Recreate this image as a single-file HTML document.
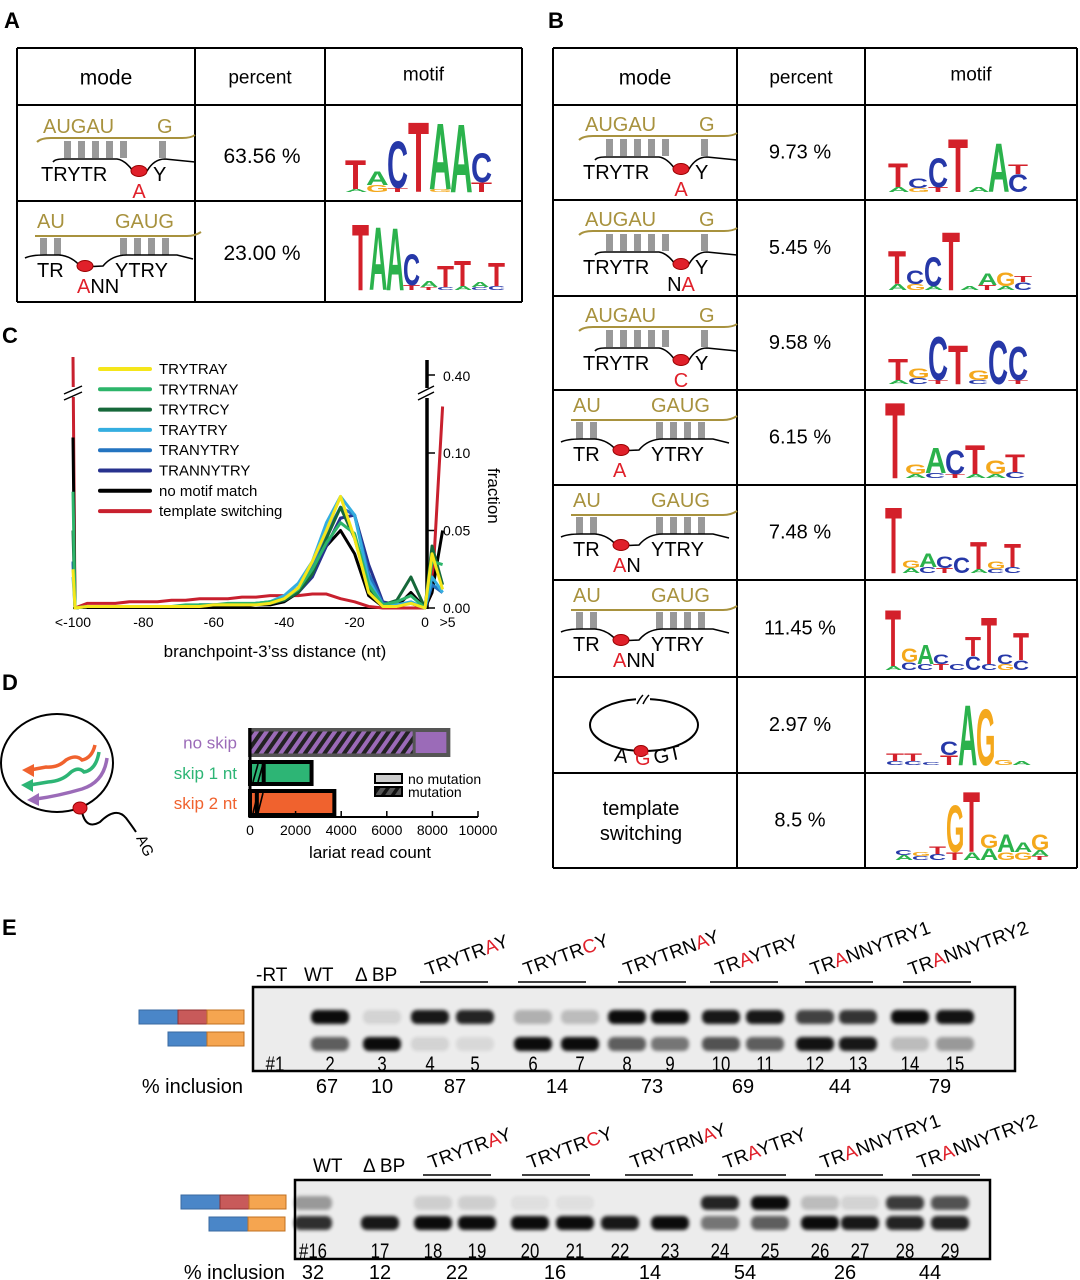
<!DOCTYPE html>
<html><head><meta charset="utf-8">
<style>
html,body{margin:0;padding:0;background:#fff;}
svg{display:block;font-family:"Liberation Sans",sans-serif;}
</style></head>
<body>
<svg id="fig" width="1080" height="1280" viewBox="0 0 1080 1280" xmlns="http://www.w3.org/2000/svg">
<defs>
<pattern id="hatch" patternUnits="userSpaceOnUse" width="8" height="8" patternTransform="rotate(35)">
<rect width="8" height="8" fill="#9b6bb8"/><rect width="4" height="8" fill="#222"/>
</pattern>
<pattern id="hatch2" patternUnits="userSpaceOnUse" width="8" height="8" patternTransform="rotate(35)">
<rect width="8" height="8" fill="#555"/><rect width="3.5" height="8" fill="#111"/>
</pattern>
<filter id="blur" x="-30%" y="-80%" width="160%" height="260%"><feGaussianBlur stdDeviation="1.8"/></filter>
</defs>
<g id="panelA"></g>
<g id="panelB"></g>
<g id="panelC"></g>
<g id="panelD"></g>
<g id="panelE"></g>
</svg>
<script>
// ---------- Panel C data ----------
const cDist = [-100,-96,-92,-88,-84,-80,-76,-72,-68,-64,-60,-56,-52,-48,-44,-40,-36,-32,-28,-24,-20,-16,-12,-8,-4,0,2,5];
const cSeriesNames = ["TRYTRAY","TRYTRNAY","TRYTRCY","TRAYTRY","TRANYTRY","TRANNYTRY","no motif match","template switching"];
const cSeriesColors = ["#f5e61a","#2db56a","#16683a","#35aee0","#2474c0","#27328e","#000000","#c8202e"];
const sTRYTRAY   = [0.025,0.001,0.001,0.001,0.001,0.001,0.001,0.001,0.001,0.001,0.002,0.002,0.002,0.002,0.003,0.006,0.013,0.030,0.050,0.072,0.045,0.010,0.001,0.001,0.003,0.000,0.035,0.012];
const sTRYTRNAY  = [0.075,0.001,0.001,0.001,0.001,0.001,0.001,0.001,0.002,0.002,0.002,0.003,0.003,0.003,0.004,0.006,0.012,0.025,0.042,0.055,0.048,0.015,0.002,0.004,0.008,0.000,0.030,0.028];
const sTRYTRCY   = [0.050,0.001,0.001,0.001,0.001,0.001,0.001,0.001,0.001,0.002,0.002,0.002,0.002,0.003,0.003,0.005,0.010,0.022,0.045,0.065,0.045,0.012,0.002,0.005,0.020,0.000,0.040,0.015];
const sTRAYTRY   = [0.020,0.001,0.001,0.001,0.001,0.001,0.001,0.001,0.001,0.002,0.002,0.002,0.002,0.003,0.004,0.008,0.016,0.030,0.055,0.072,0.060,0.018,0.002,0.002,0.004,0.000,0.020,0.010];
const sTRANYTRY  = [0.030,0.001,0.001,0.001,0.001,0.001,0.001,0.001,0.001,0.002,0.002,0.002,0.002,0.003,0.004,0.007,0.013,0.026,0.048,0.065,0.060,0.022,0.003,0.002,0.003,0.000,0.015,0.010];
const sTRANNYTRY = [0.030,0.001,0.001,0.001,0.001,0.001,0.001,0.001,0.001,0.001,0.002,0.002,0.002,0.002,0.003,0.005,0.010,0.020,0.040,0.058,0.060,0.028,0.004,0.002,0.003,0.000,0.015,0.010];
const sNoMotif   = [0.110,0.001,0.001,0.001,0.001,0.001,0.001,0.001,0.001,0.001,0.001,0.001,0.001,0.002,0.002,0.004,0.010,0.022,0.040,0.050,0.035,0.008,0.001,0.001,0.010,0.000,0.010,0.050];
const sTemplate  = [0.430,0.003,0.003,0.003,0.004,0.004,0.004,0.005,0.005,0.006,0.006,0.006,0.007,0.007,0.008,0.008,0.008,0.009,0.009,0.006,0.004,0.001,0.000,0.000,0.000,0.000,0.010,0.130];
const cSeries = [sTRYTRAY,sTRYTRNAY,sTRYTRCY,sTRAYTRY,sTRANYTRY,sTRANNYTRY,sNoMotif,sTemplate];
const cXTickVals = [-100,-80,-60,-40,-20,0,5];
const cXTickLabels = ["<-100","-80","-60","-40","-20","0",">5"];
const cYTickVals = [0,0.05,0.10];
const cYTickLabels = ["0.00","0.05","0.10"];

// ---------- Panel D data ----------
const dCategories = ["no skip","skip 1 nt","skip 2 nt"];
const dTotals = [8700,2700,3700];
const dMutation = [7200,600,300];
const dColors = ["#9b6bb8","#2db575","#f0622e"];
const dTicks = [0,2000,4000,6000,8000,10000];

// ---------- Panel E data ----------
const g1Upper = [0,0.95,0.1,0.9,0.85,0.25,0.2,0.95,0.95,0.9,0.9,0.72,0.78,0.95,0.92];
const g1Lower = [0,0.6,0.95,0.1,0.08,0.95,0.95,0.6,0.5,0.65,0.6,0.92,0.9,0.2,0.35];
const g1Inclusion = ["67","10","87","14","73","69","44","79"];
const g2Upper = [0.35,0,0.12,0.12,0.05,0.05,0,0,0.85,0.95,0.2,0.1,0.75,0.65];
const g2Lower = [0.8,0.9,0.95,0.95,0.95,0.95,0.9,0.95,0.5,0.6,0.95,0.9,0.85,0.85];
const g2Inclusion = ["32","12","22","16","14","54","26","44"];

const NS="http://www.w3.org/2000/svg";
function el(parent,tag,attrs,text){const e=document.createElementNS(NS,tag);for(const k in attrs)e.setAttribute(k,attrs[k]);if(text!==undefined)e.textContent=text;parent.appendChild(e);return e;}

const root=document.getElementById('fig');
[["A",4,28],["B",548,28],["C",2,343],["D",2,690],["E",2,935]].forEach(p=>{
  const t=el(root,'text',{x:p[1],y:p[2],'font-size':22,'font-weight':'bold'},p[0]);
  
  
});

// ---------- Tables ----------
const LOGO_COL={A:"#2bb24c",C:"#2638a8",G:"#f4a81c",T:"#d3202a"};
function logo(g,x0,base,w,cols){
  cols.forEach((c,i)=>{
    let y=base;
    const parts=c.split('|').reverse();
    parts.forEach(p=>{
      const L=p[0],h=+p.slice(1);
      const sy=h/72, sx=w/(L==='T'?61:(L==='A'?67:72));
      const t=el(g,'text',{x:0,y:0,'font-size':100,'font-weight':'bold',fill:LOGO_COL[L],transform:`translate(${x0+i*w},${y}) scale(${sx},${sy})`},L);
      
      
      y-=h;
    });
  });
}
function mode1(g,x,y,redTxt,blackPre){
  const gold="#a8923e";
  el(g,'text',{x:x+26,y:y+28,'font-size':20,fill:gold},"AUGAU");
  el(g,'text',{x:x+140,y:y+28,'font-size':20,fill:gold},"G");
  el(g,'path',{d:`M${x+20} ${y+37} Q${x+24} ${y+33} ${x+34} ${y+33} L${x+165} ${y+33} Q${x+174} ${y+33} ${x+178} ${y+30}`,stroke:gold,'stroke-width':2,fill:'none'});
  [50,64,78,92,106,145].forEach(o=>el(g,'rect',{x:x+o-3,y:y+36,width:7,height:17,fill:'#999'}));
  el(g,'path',{d:`M${x+36} ${y+57} Q${x+38} ${y+54} ${x+46} ${y+54} L${x+100} ${y+54} Q${x+108} ${y+55} ${x+116} ${y+66} L${x+130} ${y+66} Q${x+137} ${y+54} ${x+148} ${y+54} L${x+178} ${y+57}`,stroke:'#000','stroke-width':1.6,fill:'none'});
  el(g,'ellipse',{cx:x+122,cy:y+66,rx:8,ry:5.5,fill:'#e0202a',stroke:'#900','stroke-width':1});
  el(g,'text',{x:x+24,y:y+76,'font-size':20},"TRYTR");
  el(g,'text',{x:x+136,y:y+76,'font-size':20},"Y");
  const t=el(g,'text',{x:x+122,y:y+93,'font-size':20,'text-anchor':'middle'});
  if(blackPre){el(t,'tspan',{},blackPre);}
  el(t,'tspan',{fill:'#e0202a'},redTxt);
}
function mode2(g,x,y,after){
  const gold="#a8923e";
  el(g,'text',{x:x+20,y:y+27,'font-size':20,fill:gold},"AU");
  el(g,'text',{x:x+98,y:y+27,'font-size':20,fill:gold},"GAUG");
  el(g,'path',{d:`M${x+18} ${y+35} L${x+170} ${y+35} Q${x+178} ${y+35} ${x+184} ${y+31}`,stroke:gold,'stroke-width':2,fill:'none'});
  [26,40,106,120,134,148].forEach(o=>el(g,'rect',{x:x+o-3,y:y+37,width:7,height:17,fill:'#999'}));
  el(g,'path',{d:`M${x+8} ${y+57} Q${x+14} ${y+54} ${x+28} ${y+54} L${x+42} ${y+54} Q${x+55} ${y+55} ${x+64} ${y+66} L${x+86} ${y+65} Q${x+95} ${y+54} ${x+110} ${y+54} L${x+160} ${y+54} L${x+176} ${y+58}`,stroke:'#000','stroke-width':1.6,fill:'none'});
  el(g,'ellipse',{cx:x+68,cy:y+65,rx:8,ry:5.5,fill:'#e0202a',stroke:'#900','stroke-width':1});
  el(g,'text',{x:x+20,y:y+76,'font-size':20},"TR");
  el(g,'text',{x:x+98,y:y+76,'font-size':20},"YTRY");
  const t=el(g,'text',{x:x+60,y:y+92,'font-size':20});
  el(t,'tspan',{fill:'#e0202a'},"A");
  if(after)el(t,'tspan',{},after);
}
function table(g,x,cols,rows){
  const xs=cols, ys=rows;
  ys.forEach(yv=>el(g,'line',{x1:xs[0],x2:xs[xs.length-1],y1:yv,y2:yv,stroke:'#000','stroke-width':2}));
  xs.forEach(xv=>el(g,'line',{x1:xv,x2:xv,y1:ys[0],y2:ys[ys.length-1],stroke:'#000','stroke-width':2}));
  const hy=ys[0]+(ys[1]-ys[0])/2+6;
  el(g,'text',{x:(xs[0]+xs[1])/2,y:hy+2,'font-size':21,'text-anchor':'middle'},"mode");
  el(g,'text',{x:(xs[1]+xs[2])/2,y:hy+1,'font-size':19,'text-anchor':'middle'},"percent");
  el(g,'text',{x:(xs[2]+xs[3])/2,y:hy-2,'font-size':19,'text-anchor':'middle'},"motif");
}
const gA=document.getElementById('panelA');
table(gA,0,[17,195,325,522],[48,105,201,302]);
mode1(gA,17,105,"A");
mode2(gA,17,201,"NN");
el(gA,'text',{x:262,y:163,'font-size':21,'text-anchor':'middle'},"63.56 %");
el(gA,'text',{x:262,y:260,'font-size':21,'text-anchor':'middle'},"23.00 %");
logo(gA,345,192,21,["T30|A3","A14|G7","C48|T4","T72","A68|G3","A70","C30|T10"]);
logo(gA,352,290,17,["T68","A65","A64","C32|T5","A6|T3","T22|C3","T26|A4","A5|C3","T24|C4"]);

const gB=document.getElementById('panelB');
const bRows=[48,105,200,296,390,485,580,677,773,868];
table(gB,0,[553,737,865,1077],bRows);
mode1(gB,559,bRows[1]-2,"A");
mode1(gB,559,bRows[2]-2,"A","N");
mode1(gB,559,bRows[3]-2,"C");
mode2(gB,553,bRows[4]-5,"");
mode2(gB,553,bRows[5]-5,"N");
mode2(gB,553,bRows[6]-5,"NN");
el(gB,'ellipse',{cx:644,cy:725,rx:54,ry:26,fill:'none',stroke:'#000','stroke-width':2});
el(gB,'rect',{x:636,y:695,width:14,height:8,fill:'#fff'});
el(gB,'path',{d:'M637 704 q3 -6 6 -9 M643 704 q3 -6 6 -9',stroke:'#000','stroke-width':1.5,fill:'none'});
el(gB,'ellipse',{cx:641,cy:751,rx:7,ry:5.5,fill:'#e0202a',stroke:'#900','stroke-width':1});
el(gB,'text',{x:614,y:762,'font-size':20,transform:'rotate(8 620 760)'},"A");
el(gB,'text',{x:635,y:765,'font-size':20,fill:'#e0202a'},"G");
el(gB,'text',{x:654,y:762,'font-size':20,transform:'rotate(-12 665 758)'},"GT");
el(gB,'text',{x:641,y:815,'font-size':20,'text-anchor':'middle'},"template");
el(gB,'text',{x:641,y:840,'font-size':20,'text-anchor':'middle'},"switching");
["9.73 %","5.45 %","9.58 %","6.15 %","7.48 %","11.45 %","2.97 %","8.5 %"].forEach((p,i)=>{
  const t=el(gB,'text',{x:800,y:(bRows[i+1]+bRows[i+2])/2+6,'font-size':20,'text-anchor':'middle'},p);
  
  
});
const bLogos=[
 ["T25|A5","C10|G4","C30|T5","T55","A5","A50","T10|C18"],
 ["T34|A6","C14|G6","C30|A4","T60","A4","A12|T5","G14|A4","T6|C8"],
 ["T22|A4","G10|C6","C45|T4","T40","G10|C4","C45","C35|T4"],
 ["T78","G10|A4","A26|C5","C25|T4","T30|A4","G14|A4","T18|C6"],
 ["T68","G8|A5","A14|C6","C12|T5","C16","T28|A4","G8|C4","T24|C6"],
 ["T58|A4","G14|C8","A20|C6","C10|T6","C6","T20|C14","T48|C6","C10|G6","T28|C10"],
 ["T8|C4","T8|C4","C3","C14|T10","A62","G58","G5","A4"],
 ["C5|A5","G4|C4","T8|C6","G48|T8","T62|A8","G14|A12","A18|G8","A10|G8","G16|A6|T4"]
];
const bBase=[192,290,384,478,573,670,765,860];
const bStart=[888,888,888,885,885,885,886,895];
const bW=[20,18,20,20,17,16,18,17];
bLogos.forEach((c,i)=>logo(gB,bStart[i],bBase[i],bW[i],c));

// ---------- Panel C ----------
const gC=document.getElementById('panelC');
function cx(d){return 73+(d+100)*3.52;}
function cy(v){ if(v<=0.14) return 608-v*1550; return 375-(v-0.40)*600; }
el(gC,'line',{x1:cx(-100),x2:cx(0),y1:608,y2:608,stroke:'#000','stroke-width':2});
el(gC,'line',{x1:427,x2:427,y1:360,y2:609,stroke:'#000','stroke-width':3.5});
el(gC,'rect',{x:420,y:388,width:16,height:10,fill:'#fff'});
el(gC,'path',{d:'M418 394 L434 386 M418 400 L434 392',stroke:'#000','stroke-width':1.5});
el(gC,'line',{x1:427,x2:435,y1:375,y2:375,stroke:'#000','stroke-width':1.5});
el(gC,'text',{x:443,y:381,'font-size':14},"0.40");
cYTickVals.forEach((v,i)=>{
  el(gC,'line',{x1:427,x2:435,y1:cy(v),y2:cy(v),stroke:'#000','stroke-width':1.5});
  el(gC,'text',{x:443,y:cy(v)+5,'font-size':14},cYTickLabels[i]);
});
el(gC,'text',{x:0,y:0,'font-size':17,transform:'translate(488,468) rotate(90)'},"fraction");
cXTickVals.forEach((v,i)=>{
  const t=el(gC,'text',{x:cx(v)+(v===5?5:0),y:627,'font-size':14,'text-anchor':'middle'},cXTickLabels[i]);
  
  
});
el(gC,'text',{x:275,y:657,'font-size':17,'text-anchor':'middle'},"branchpoint-3’ss distance (nt)");
const order=[7,6,5,4,3,2,1,0];
order.forEach(si=>{
  const vals=cSeries[si];
  let d="";
  vals.forEach((v,i)=>{
    let x=cx(cDist[i]);
    if(i===0){ d+=`M${x} ${cy(v)} L${x+2} 608 `; return; }
    d+=`L${x} ${cy(v)} `;
  });
  const p=el(gC,'path',{d:d,stroke:cSeriesColors[si],'stroke-width':3,fill:'none','stroke-linejoin':'round'});
  
  
});
el(gC,'rect',{x:64,y:387,width:18,height:10,fill:'#fff'});
el(gC,'path',{d:'M64 394 L82 386 M64 400 L82 392',stroke:'#000','stroke-width':1.5});
cSeriesNames.forEach((n,i)=>{
  const y=369+i*20.3;
  const ln=el(gC,'line',{x1:100,x2:150,y1:y,y2:y,stroke:cSeriesColors[i],'stroke-width':4,'stroke-linecap':'round'});
  
  
  const t=el(gC,'text',{x:159,y:y+5,'font-size':15},n);
  
  
});

// ---------- Panel D ----------
const gD=document.getElementById('panelD');
el(gD,'ellipse',{cx:57,cy:763,rx:56,ry:49,fill:'none',stroke:'#000','stroke-width':2});
el(gD,'path',{d:'M82 812 Q86 830 100 822 Q116 806 126 818 Q132 826 136 832',stroke:'#000','stroke-width':2,fill:'none'});
el(gD,'ellipse',{cx:80,cy:808,rx:7,ry:6,fill:'#e0202a',stroke:'#900','stroke-width':1});
el(gD,'text',{x:0,y:0,'font-size':15,transform:'translate(136,838) rotate(65)'},"AG");
// orange
el(gD,'path',{d:'M95 745 Q92 758 82 760 Q76 754 66 760 Q58 768 46 767 L30 770',stroke:'#f0622e','stroke-width':3.5,fill:'none'});
el(gD,'path',{d:'M22 770 L34 764 L34 777 Z',fill:'#f0622e'});
// green
el(gD,'path',{d:'M99 752 Q96 770 84 772 Q78 766 70 773 Q62 781 48 782 L30 785',stroke:'#2db575','stroke-width':3.5,fill:'none'});
el(gD,'path',{d:'M21 785 L33 779 L33 792 Z',fill:'#2db575'});
// purple
el(gD,'path',{d:'M107 758 Q104 782 82 789 Q58 796 36 799',stroke:'#9b6bb8','stroke-width':3.5,fill:'none'});
el(gD,'path',{d:'M27 800 L39 793 L39 806 Z',fill:'#9b6bb8'});
function dx(v){return 250+v*0.0228;}
const dBarY=[730,762,791], dBarH=[25,22,24];
dCategories.forEach((c,i)=>{
  const y=dBarY[i],h=dBarH[i];
  const full=el(gD,'rect',{x:dx(0),y:y,width:dx(dTotals[i])-dx(0),height:h,fill:dColors[i],stroke:i===0?'#555':'#000','stroke-width':4});
  
  
  const mut=el(gD,'rect',{x:dx(0),y:y,width:dx(dMutation[i])-dx(0),height:h,fill:i===0?'url(#hatch)':dColors[i],stroke:i===0?'#555':'#000','stroke-width':i===0?3:4});
  
  
  if(i>0){ for(let k=0;k<2;k++){ el(gD,'line',{x1:dx(0)+3+k*5,y1:y+h-2,x2:dx(0)+8+k*5,y2:y+2,stroke:'#000','stroke-width':1.6}); } }
  el(gD,'text',{x:237,y:y+h/2+6,'font-size':17,fill:dColors[i],'text-anchor':'end'},c);
});
el(gD,'line',{x1:dx(0),x2:dx(0),y1:728,y2:818,stroke:'#000','stroke-width':3});
el(gD,'line',{x1:dx(0),x2:dx(10000),y1:817,y2:817,stroke:'#000','stroke-width':2});
dTicks.forEach(v=>{
  el(gD,'line',{x1:dx(v),x2:dx(v),y1:811,y2:817,stroke:'#000','stroke-width':1.5});
  const t=el(gD,'text',{x:dx(v),y:835,'font-size':14,'text-anchor':'middle'},String(v));
  
  
});
el(gD,'text',{x:370,y:858,'font-size':17,'text-anchor':'middle'},"lariat read count");
el(gD,'rect',{x:375,y:774,width:27,height:9,fill:'#ccc',stroke:'#000','stroke-width':2});
el(gD,'rect',{x:375,y:787,width:27,height:9,fill:'url(#hatch2)',stroke:'#000','stroke-width':2});
el(gD,'text',{x:408,y:784,'font-size':14},"no mutation");
el(gD,'text',{x:408,y:797,'font-size':14},"mutation");

// ---------- Panel E ----------
const gE=document.getElementById('panelE');
function gel(x,y,w,h,lanes,up,lo,upY,loY,bw,nums,numY,firstLabel){
  el(gE,'rect',{x:x,y:y,width:w,height:h,fill:'#ececec',stroke:'#000','stroke-width':2.5});
  lanes.forEach((lx,i)=>{
    if(up[i]>0){const b=el(gE,'rect',{x:lx-bw/2,y:upY-7,width:bw,height:14,rx:6,fill:'#000',opacity:up[i],filter:'url(#blur)'});
      
      }
    if(lo[i]>0){const b=el(gE,'rect',{x:lx-bw/2,y:loY-7,width:bw,height:14,rx:6,fill:'#000',opacity:lo[i],filter:'url(#blur)'});
      
      }
    el(gE,'text',{x:lx,y:numY,'font-size':21,'text-anchor':'middle',transform:`translate(${lx},0) scale(0.8,1) translate(${-lx},0)`},(i===0?firstLabel:String(nums+i)));
  });
}
const g1Lanes=[275,330,382,430,475,533,580,627,670,721,765,815,858,910,955];
gel(253,987,762,84,g1Lanes,g1Upper,g1Lower,1017,1044,38,1,1071,"#1");
const g2Lanes=[313,380,433,477,530,575,620,670,720,770,820,860,905,950];
gel(295,1180,695,79,g2Lanes,g2Upper,g2Lower,1203,1223,38,16,1258,"#16");
const g1IncX=[327,382,455,557,652,743,840,940];
const g2IncX=[313,380,457,555,650,745,845,930];
el(gE,'text',{x:243,y:1093,'font-size':20,'text-anchor':'end'},"% inclusion");
g1Inclusion.forEach((v,i)=>{const t=el(gE,'text',{x:g1IncX[i],y:1093,'font-size':20,'text-anchor':'middle'},v);
  
  });
el(gE,'text',{x:285,y:1279,'font-size':20,'text-anchor':'end'},"% inclusion");
g2Inclusion.forEach((v,i)=>{const t=el(gE,'text',{x:g2IncX[i],y:1279,'font-size':20,'text-anchor':'middle'},v);
  
  });
el(gE,'text',{x:256,y:981,'font-size':19},"-RT");
el(gE,'text',{x:304,y:981,'font-size':19},"WT");
el(gE,'text',{x:355,y:981,'font-size':19},"Δ BP");
el(gE,'text',{x:313,y:1172,'font-size':19},"WT");
el(gE,'text',{x:363,y:1172,'font-size':19},"Δ BP");
const groups=[["TRYTR","A","Y"],["TRYTR","C","Y"],["TRYTRN","A","Y"],["TR","A","YTRY"],["TR","A","NNYTRY1"],["TR","A","NNYTRY2"]];
function groupLabels(starts,lineY){
  groups.forEach((g,i)=>{
    const x=starts[i];
    el(gE,'line',{x1:x,x2:x+68,y1:lineY,y2:lineY,stroke:'#000','stroke-width':1.5});
    const t=el(gE,'text',{x:0,y:0,'font-size':19,transform:`translate(${x+8},${lineY-6}) rotate(-20)`});
    el(t,'tspan',{},g[0]);el(t,'tspan',{fill:'#e0202a'},g[1]);el(t,'tspan',{},g[2]);
    
    
  });
}
groupLabels([420,518,618,710,805,903],982);
groupLabels([423,522,625,718,815,912],1175);
function exons(x,y,incl){
  if(incl){
    el(gE,'rect',{x:x,y:y,width:39,height:14,fill:'#4a86c8',stroke:'#3a6aa0'});
    el(gE,'rect',{x:x+39,y:y,width:29,height:14,fill:'#c85a5a',stroke:'#903030'});
    el(gE,'rect',{x:x+68,y:y,width:37,height:14,fill:'#f5a550',stroke:'#c07020'});
  } else {
    el(gE,'rect',{x:x,y:y,width:39,height:14,fill:'#4a86c8',stroke:'#3a6aa0'});
    el(gE,'rect',{x:x+39,y:y,width:37,height:14,fill:'#f5a550',stroke:'#c07020'});
  }
}
exons(139,1010,true);exons(168,1032,false);
exons(181,1195,true);exons(209,1217,false);
</script>
</body></html>
